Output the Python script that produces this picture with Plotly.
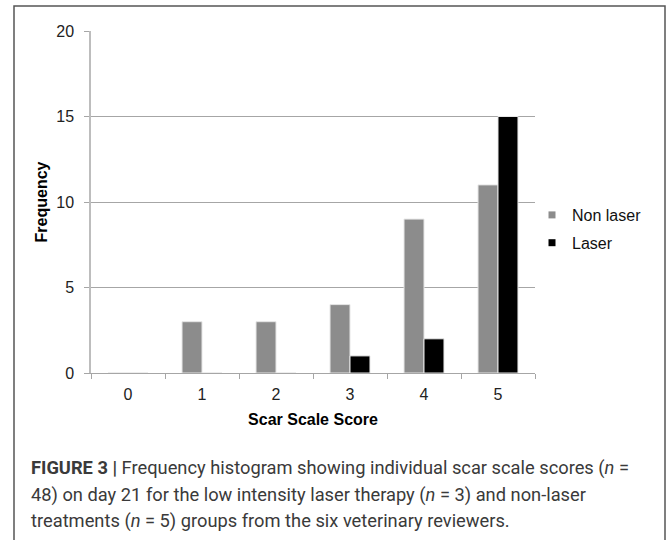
import plotly.graph_objects as go

categories = ["0", "1", "2", "3", "4", "5"]
non_laser = [0, 3, 3, 4, 9, 11]
laser = [0, 0, 0, 1, 2, 15]
y_ticks = [0, 5, 10, 15, 20]
series_names = ["Non laser", "Laser"]
series_colors = ["#8c8c8c", "#000000"]
x_title = "Scar Scale Score"
y_title = "Frequency"
caption_lines = [
    "<b>FIGURE 3 |</b> Frequency histogram showing individual scar scale scores (<i>n</i> =",
    "48) on day 21 for the low intensity laser therapy (<i>n</i> = 3) and non-laser",
    "treatments (<i>n</i> = 5) groups from the six veterinary reviewers.",
]

W, H = 670, 540
L, R, T, B = 91, 135, 31, 167
PW, PH = W - L - R, H - T - B

def px_x(x):
    return (x - L) / PW

def px_y(y):
    return (H - B - y) / PH

fig = go.Figure()
for name, vals, col in zip(series_names, [non_laser, laser], series_colors):
    fig.add_trace(go.Bar(
        x=categories, y=vals, name=name, showlegend=False,
        marker=dict(color=col, line=dict(color="#e6e6e6", width=1)),
    ))
for i, (name, col) in enumerate(zip(series_names, series_colors)):
    fig.add_trace(go.Scatter(
        x=[None], y=[None], mode="markers", name=name,
        legendgroup=f"g{i}",
        marker=dict(symbol="square", size=7, color=col),
    ))

grid_col = "#a6a6a6"
fig.update_layout(
    width=W, height=H,
    margin=dict(l=L, r=R, t=T, b=B, pad=0),
    paper_bgcolor="white", plot_bgcolor="white",
    barmode="group", bargap=0.46, bargroupgap=0,
    font=dict(family="Liberation Sans, Arial, sans-serif", color="#1a1a1a", size=16),
    legend=dict(
        x=px_x(532), y=px_y(198), xanchor="left", yanchor="top",
        font=dict(size=16, color="#111"), traceorder="grouped",
        tracegroupgap=4, itemwidth=30, bgcolor="rgba(0,0,0,0)",
    ),
    xaxis=dict(
        type="category", tickson="boundaries", ticks="outside", ticklen=5,
        tickcolor=grid_col, showline=True, linecolor=grid_col, linewidth=1,
        showgrid=False, tickfont=dict(size=16, color="#222"), ticklabelstandoff=7,
        title=dict(text="<b>" + x_title + "</b>", font=dict(size=16, color="#000"), standoff=11),
    ),
    yaxis=dict(
        range=[0, 20], tickvals=y_ticks, ticks="outside", ticklen=5,
        tickcolor=grid_col, showline=True, linecolor="#bdbdbd", linewidth=1.5,
        showgrid=True, gridcolor=grid_col, gridwidth=1, zeroline=False,
        tickfont=dict(size=16, color="#222"), ticklabelstandoff=7,
        title=dict(text="<b>" + y_title + "</b>", font=dict(size=16, color="#000"), standoff=5),
    ),
)

# outer frame
fig.add_shape(type="rect", xref="paper", yref="paper",
              x0=px_x(14), x1=px_x(665), y0=px_y(560), y1=px_y(6),
              line=dict(color="#555", width=1.5), layer="below")

caption_y = [468, 495, 521]
for txt, yy in zip(caption_lines, caption_y):
    fig.add_annotation(
        text=txt, xref="paper", yref="paper", x=px_x(29), y=px_y(yy),
        xanchor="left", yanchor="middle", showarrow=False, align="left",
        font=dict(family="Roboto, sans-serif", size=18.3, color="#3a3a3a"),
    )

fig.write_html("out.html", post_script="document.body.style.margin='0';",
               config={"displayModeBar": False})
